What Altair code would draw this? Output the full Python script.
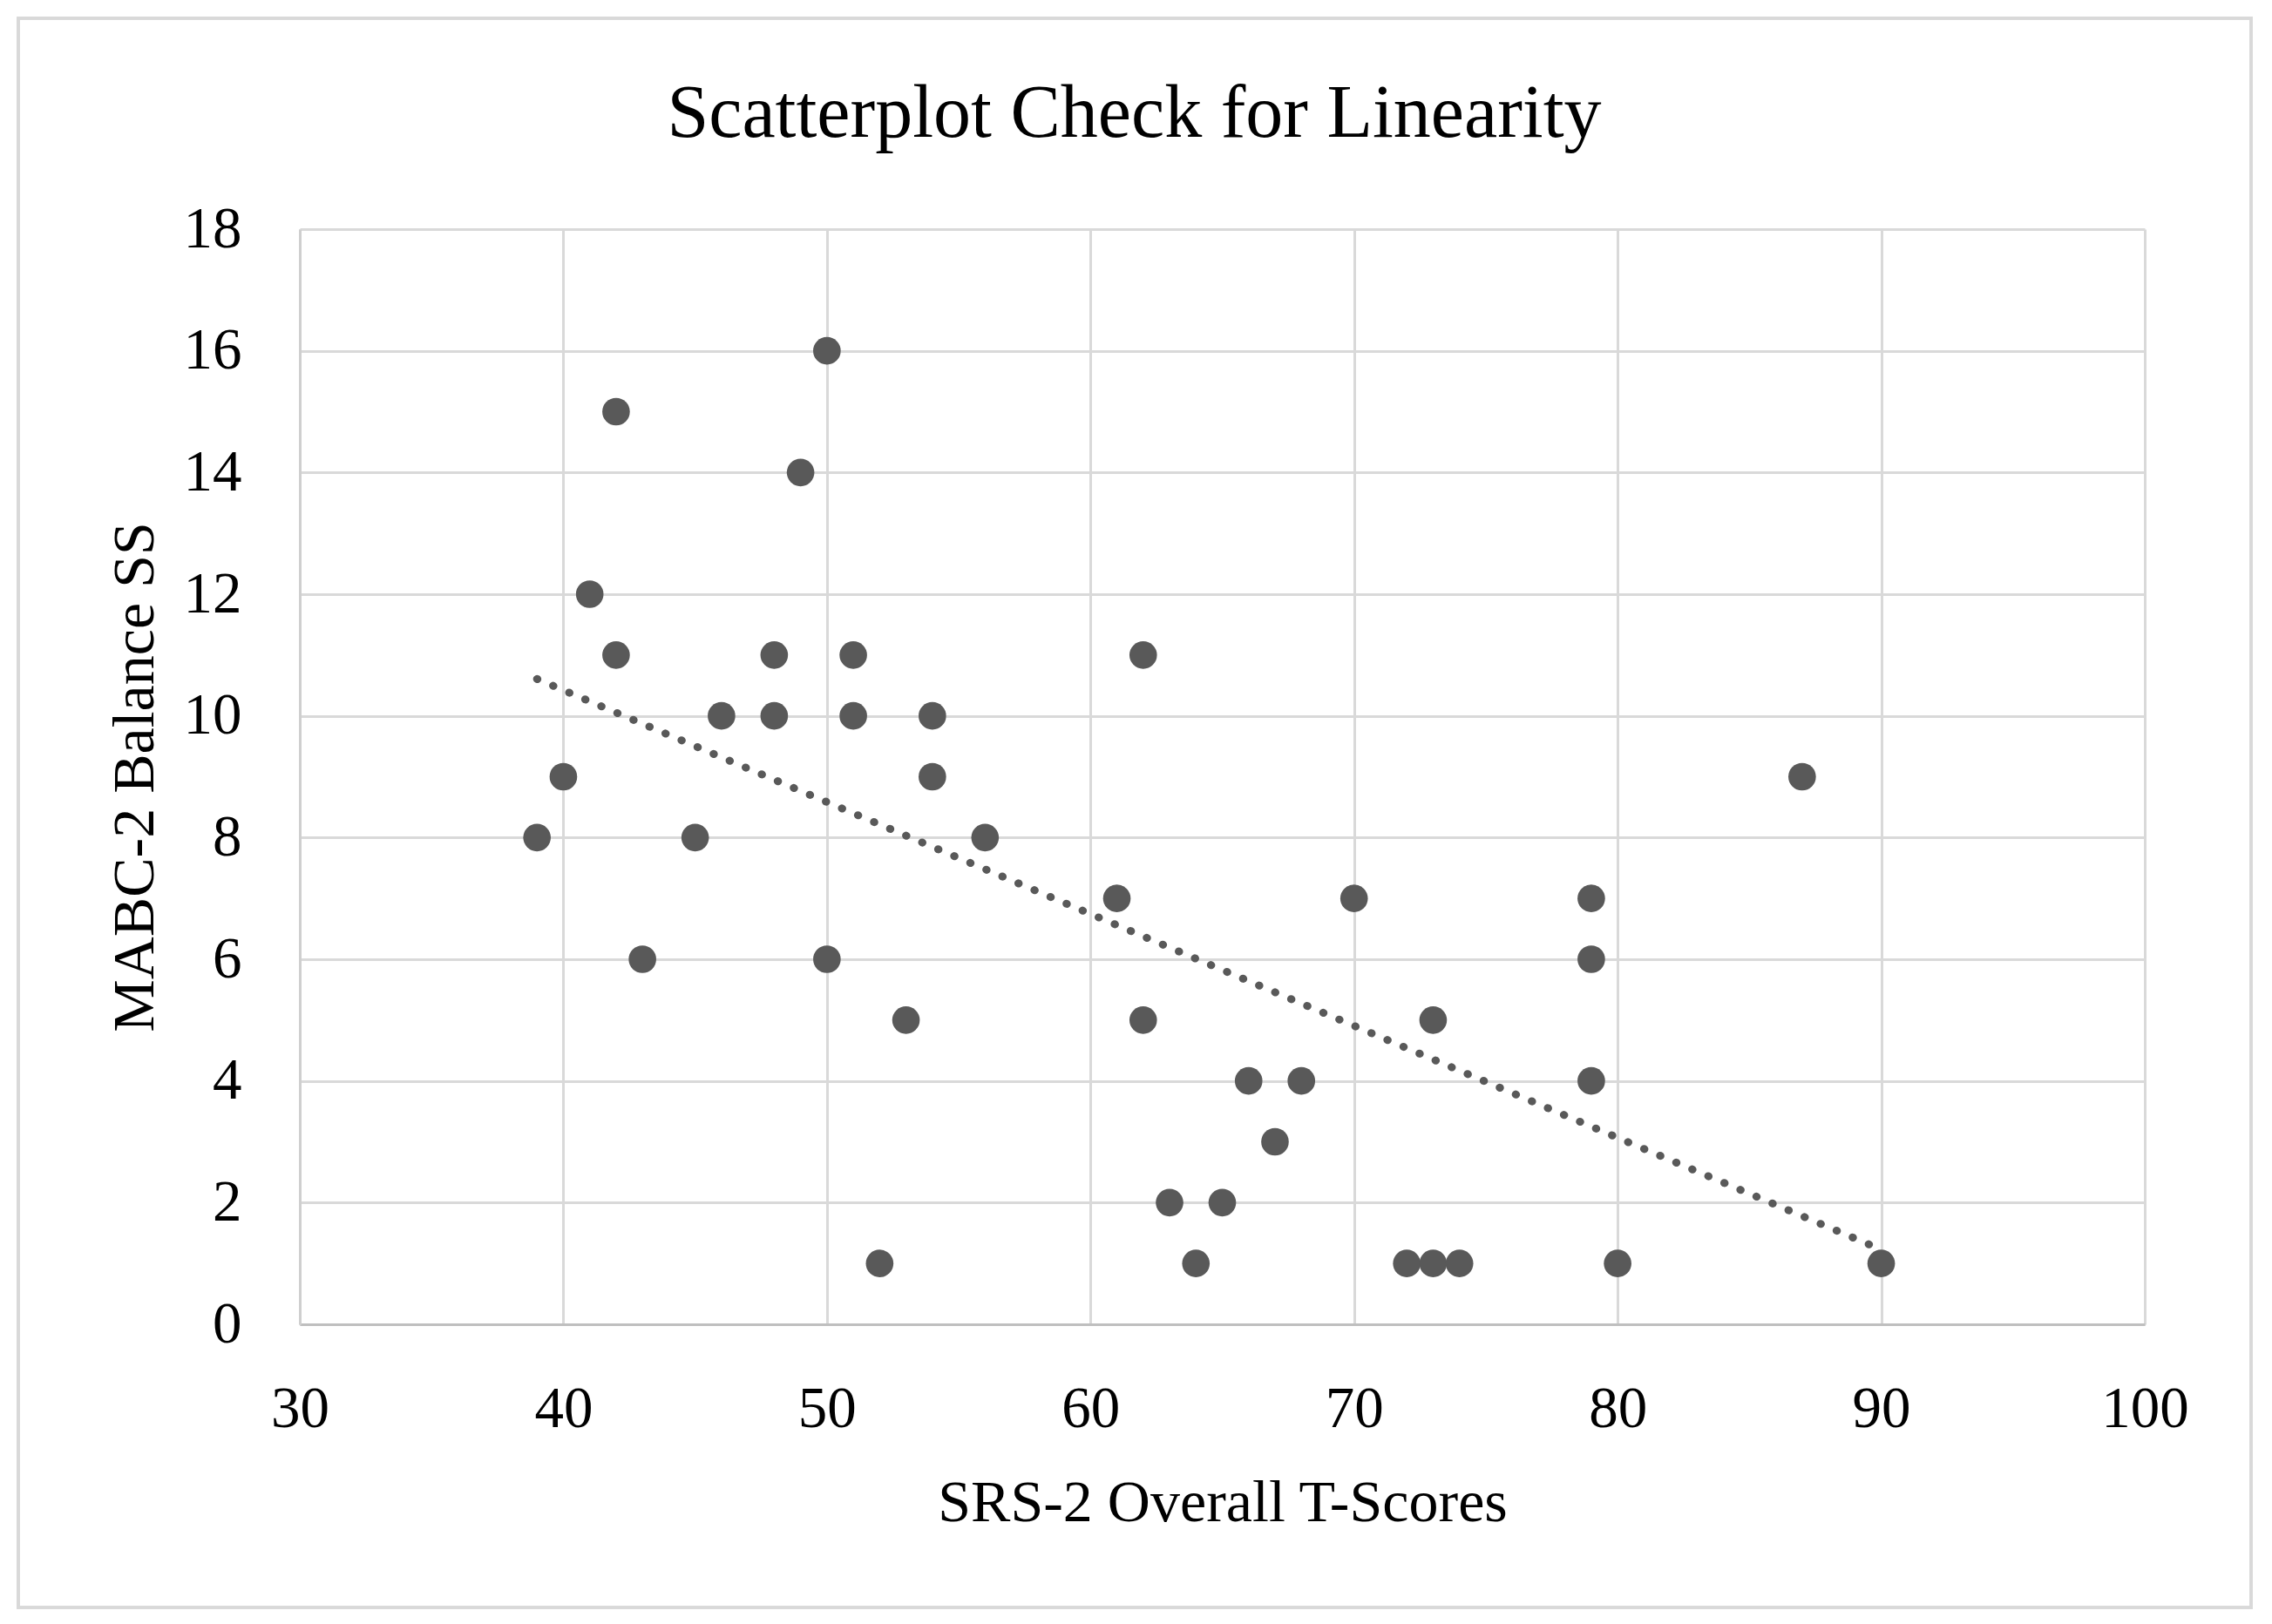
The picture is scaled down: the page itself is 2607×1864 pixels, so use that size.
import altair as alt
import pandas as pd

# SRS-2 Overall T-Scores (x) and MABC-2 Balance SS (y)
srs_scores = [39, 40, 41, 42, 42, 43, 45, 46, 48, 48,
              49, 50, 50, 51, 51, 52, 53, 54, 54, 56,
              61, 62, 62, 63, 64, 65, 66, 67, 68, 70,
              72, 73, 74, 73, 79, 79, 79, 80, 87, 90]
mabc_balance = [8, 9, 12, 15, 11, 6, 8, 10, 11, 10,
                14, 16, 6, 11, 10, 1, 5, 10, 9, 8,
                7, 11, 5, 2, 1, 2, 4, 3, 4, 7,
                1, 1, 1, 5, 7, 6, 4, 1, 9, 1]
x_ticks = [30, 40, 50, 60, 70, 80, 90, 100]
y_ticks = [0, 2, 4, 6, 8, 10, 12, 14, 16, 18]

df = pd.DataFrame({"srs": srs_scores, "mabc": mabc_balance})

FONT = "Liberation Serif"
GREY = "#595959"

x_enc = alt.X(
    "srs:Q",
    title="SRS-2 Overall T-Scores",
    scale=alt.Scale(domain=[30, 100], nice=False, zero=False),
    axis=alt.Axis(values=x_ticks, format="d", grid=True, gridColor="#d9d9d9", gridWidth=3,
                  domainColor="#bfbfbf", domainWidth=3, ticks=False,
                  labelFlush=False, labelOverlap=False,
                  labelPadding=64, labelFontSize=67, labelFont=FONT, labelColor="#000000",
                  titleFont=FONT, titleFontSize=68, titleFontWeight="normal",
                  titleColor="#000000", titlePadding=41),
)
y_enc = alt.Y(
    "mabc:Q",
    title="MABC-2 Balance SS",
    scale=alt.Scale(domain=[0, 18], nice=False),
    axis=alt.Axis(values=y_ticks, format="d", grid=True, gridColor="#d9d9d9", gridWidth=3,
                  domainColor="#cfcfcf", domainWidth=3, ticks=False,
                  labelFlush=False, labelOverlap=False,
                  labelPadding=67, labelFontSize=67, labelFont=FONT, labelColor="#000000",
                  titleFont=FONT, titleFontSize=68, titleFontWeight="normal",
                  titleColor="#000000", titlePadding=21),
)

points = alt.Chart(df).mark_circle(size=1000, color=GREY, opacity=1).encode(x=x_enc, y=y_enc)

trend = alt.Chart(df).transform_regression("srs", "mabc").mark_line(
    color=GREY, strokeWidth=9, strokeDash=[0.5, 19.5], strokeCap="round"
).encode(x="srs:Q", y="mabc:Q")

frame = alt.Chart(df).mark_rect(filled=False, stroke="#d9d9d9", strokeWidth=3).encode(
    x=alt.value(-323), x2=alt.value(2239), y=alt.value(-242), y2=alt.value(1582)
)

chart = alt.layer(points, trend, frame).properties(
    width=2117,
    height=1257,
    padding={"left": 336, "top": 255, "right": 138, "bottom": 336},
    autosize=alt.AutoSizeParams(type="none"),
    title=alt.TitleParams(
        "Scatterplot Check for Linearity", font=FONT, fontSize=86, fontWeight="normal",
        color="#000000", anchor="middle", frame="group", dx=-101, baseline="alphabetic",
        offset=-223,
    ),
).configure_view(stroke=None)

chart.save("out.html", embed_options={"renderer": "svg", "actions": False})
